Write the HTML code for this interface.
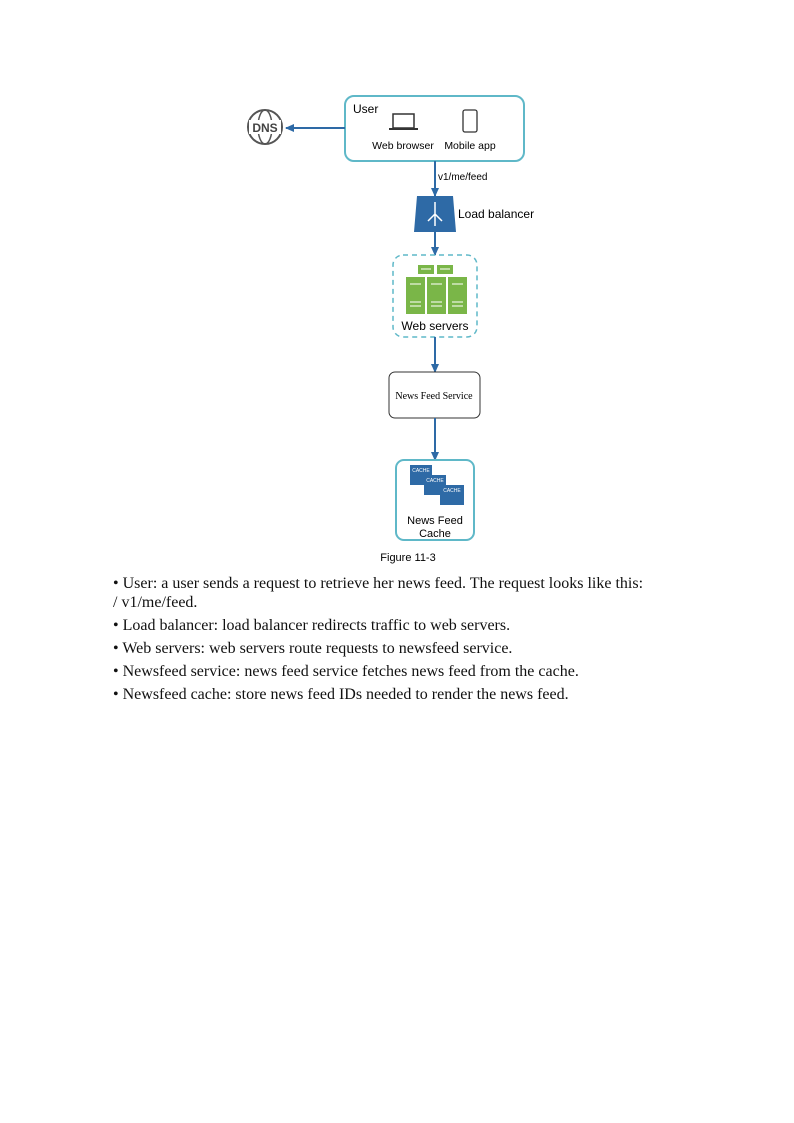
<!DOCTYPE html>
<html><head><meta charset="utf-8"><style>
body{margin:0;background:#fff;width:794px;height:1123px;position:relative;overflow:hidden}
.t{position:absolute;font-family:"Liberation Serif",serif;font-size:16px;color:#111;white-space:nowrap}
</style></head><body>
<svg width="794" height="600" style="position:absolute;left:0;top:0" font-family="Liberation Sans, sans-serif">
<defs><marker id="a" markerUnits="userSpaceOnUse" markerWidth="10" markerHeight="10" refX="8" refY="5" orient="auto"><path d="M0,1L9,5L0,9z" fill="#2e6aa6"/></marker></defs>
<rect x="345" y="96" width="179" height="65" rx="9" fill="none" stroke="#5fb8c8" stroke-width="2"/>
<text x="353" y="113" font-size="12">User</text>
<rect x="393" y="114" width="21" height="14" fill="none" stroke="#333" stroke-width="1.5"/>
<rect x="389" y="128" width="29" height="2" fill="#333"/>
<rect x="463" y="110" width="14" height="22" rx="2" fill="none" stroke="#333" stroke-width="1.3"/>
<text x="403" y="149" font-size="10.5" text-anchor="middle">Web browser</text>
<text x="470" y="149" font-size="10.5" text-anchor="middle">Mobile app</text>
<circle cx="265" cy="127" r="17" fill="none" stroke="#555" stroke-width="2"/>
<ellipse cx="265" cy="127" rx="7" ry="17" fill="none" stroke="#555" stroke-width="1.5"/>
<rect x="249" y="120" width="32" height="14" fill="#fff"/>
<text x="265" y="132" font-size="12" font-weight="bold" text-anchor="middle" fill="#444">DNS</text>
<line x1="345" y1="128" x2="286" y2="128" stroke="#2e6aa6" stroke-width="2" marker-end="url(#a)"/>
<line x1="435" y1="161" x2="435" y2="196" stroke="#2e6aa6" stroke-width="2" marker-end="url(#a)"/>
<text x="438" y="180" font-size="10">v1/me/feed</text>
<path d="M417,196L453,196L456,232L414,232z" fill="#2e6aa6"/>
<path d="M435,202V226M435,214L428,221M435,214L442,221" stroke="#fff" stroke-width="1.5" fill="none"/>
<text x="458" y="218" font-size="12">Load balancer</text>
<line x1="435" y1="232" x2="435" y2="255" stroke="#2e6aa6" stroke-width="2" marker-end="url(#a)"/>
<rect x="393" y="255" width="84" height="82" rx="10" fill="none" stroke="#5fb8c8" stroke-width="1.5" stroke-dasharray="5,4"/>
<rect x="418" y="265" width="16" height="9" fill="#7ab648"/><rect x="437" y="265" width="16" height="9" fill="#7ab648"/>
<rect x="406" y="277" width="19" height="37" fill="#7ab648"/><rect x="427" y="277" width="19" height="37" fill="#7ab648"/><rect x="448" y="277" width="19" height="37" fill="#7ab648"/>
<g stroke="#e8f3dc" stroke-width="1.2"><path d="M410,284h11M431,284h11M452,284h11M410,302h11M431,302h11M452,302h11M410,306h11M431,306h11M452,306h11M421,269h10M440,269h10"/></g>
<text x="435" y="330" font-size="12" text-anchor="middle">Web servers</text>
<line x1="435" y1="337" x2="435" y2="372" stroke="#2e6aa6" stroke-width="2" marker-end="url(#a)"/>
<rect x="389" y="372" width="91" height="46" rx="6" fill="#fff" stroke="#333" stroke-width="1"/>
<text x="434" y="399" font-size="10" text-anchor="middle" font-family="Liberation Serif, serif">News Feed Service</text>
<line x1="435" y1="418" x2="435" y2="460" stroke="#2e6aa6" stroke-width="2" marker-end="url(#a)"/>
<rect x="396" y="460" width="78" height="80" rx="8" fill="none" stroke="#5fb8c8" stroke-width="2"/>
<rect x="410" y="465" width="22" height="20" fill="#2e6aa6"/>
<rect x="424" y="475" width="22" height="20" fill="#2e6aa6"/>
<rect x="440" y="485" width="24" height="20" fill="#2e6aa6"/>
<text x="421" y="472" font-size="5" fill="#fff" text-anchor="middle">CACHE</text>
<text x="435" y="482" font-size="5" fill="#fff" text-anchor="middle">CACHE</text>
<text x="452" y="492" font-size="5" fill="#fff" text-anchor="middle">CACHE</text>
<text x="435" y="524" font-size="11" text-anchor="middle">News Feed</text>
<text x="435" y="537" font-size="11" text-anchor="middle">Cache</text>
<text x="408" y="561" font-size="11" text-anchor="middle">Figure 11-3</text>
</svg>
<div class="t" style="left:113px;top:575px">• User: a user sends a request to retrieve her news feed. The request looks like this:</div>
<div class="t" style="left:113px;top:594px">/ v1/me/feed.</div>
<div class="t" style="left:113px;top:617px">• Load balancer: load balancer redirects traffic to web servers.</div>
<div class="t" style="left:113px;top:640px">• Web servers: web servers route requests to newsfeed service.</div>
<div class="t" style="left:113px;top:663px">• Newsfeed service: news feed service fetches news feed from the cache.</div>
<div class="t" style="left:113px;top:686px">• Newsfeed cache: store news feed IDs needed to render the news feed.</div>
</body></html>
